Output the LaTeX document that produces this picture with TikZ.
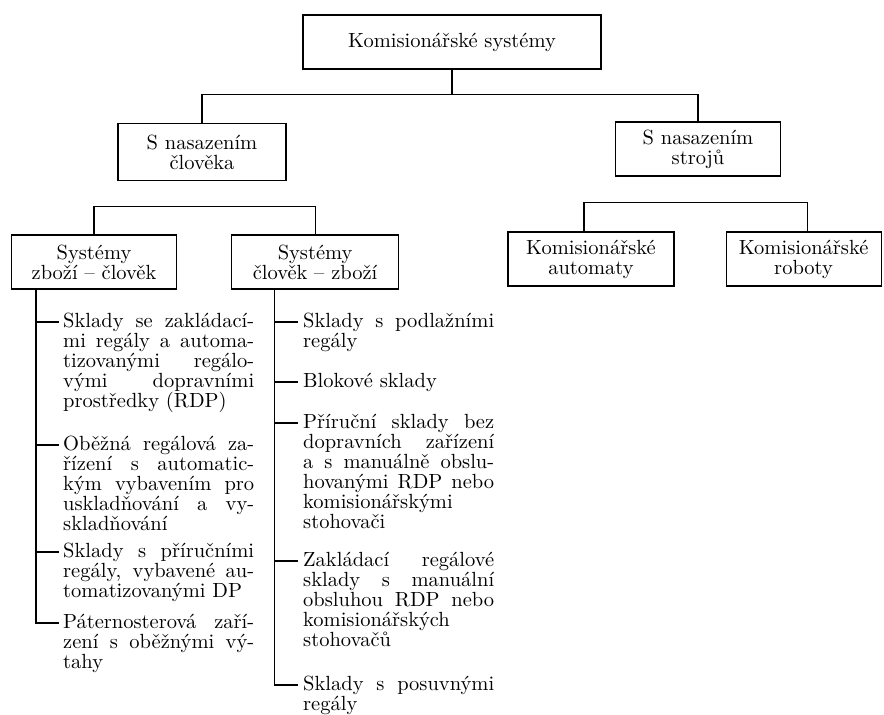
\documentclass[tikz,border=0pt]{standalone}
\usepackage{fontspec}
\setmainfont{lmroman10-regular}[Extension=.otf]
\usepackage{tikz}
\usetikzlibrary{positioning}

\begin{document}
\begin{tikzpicture}[
  x=1pt, y=-1pt,
  box/.style={rectangle, draw, line width=1.1pt, minimum height=54pt, inner sep=2pt, align=center, font=\fontsize{20.5}{20}\selectfont},
  item/.style={anchor=base west, text width=191pt, align=justify, inner sep=0pt, font=\fontsize{20.5}{20}\selectfont},
  ln/.style={line width=1.1pt},
  node distance=54pt and 54pt
]
\useasboundingbox (0,0) rectangle (884,715);

% boxes
\node[box, minimum width=298pt] (top) at (452,42) {Komisionářské systémy};
\node[box, minimum width=168pt, minimum height=57pt] (human) at (202,152) {S nasazením\\člověka};
\node[box, minimum width=165pt] (machine) at (698,149) {S nasazením\\strojů};

\node[box, minimum width=165pt] (goods) at (94,262) {Systémy\\zboží – člověk};
\node[box, minimum width=167pt, right=of goods] (person) {Systémy\\člověk – zboží};
\node[box, minimum width=166pt] (auto) at (591,259) {Komisionářské\\automaty};
\node[box, minimum width=155pt, right=51pt of auto] (robot) {Komisionářské\\roboty};

% items zbozi - clovek
\node[item] (g1) at (63,327) {Sklady se zakládací-\linebreak mi regály a automa-\linebreak tizovanými regálo-\linebreak vými dopravními\linebreak prostředky (RDP)};
\node[item] (g2) at (63,450) {Oběžná regálová za-\linebreak řízení s automatic-\linebreak kým vybavením pro\linebreak uskladňování a vy-\linebreak skladňování};
\node[item] (g3) at (63,557) {Sklady s příručními\linebreak regály, vybavené au-\linebreak tomatizovanými DP};
\node[item] (g4) at (63,628) {Páternosterová zaří-\linebreak zení s oběžnými vý-\linebreak tahy};

% items clovek - zbozi
\node[item] (p1) at (303,327) {Sklady s podlažními\linebreak regály};
\node[item] (p2) at (303,387) {Blokové sklady};
\node[item] (p3) at (303,428) {Příruční sklady bez\linebreak dopravních zařízení\linebreak a s manuálně obslu-\linebreak hovanými RDP nebo\linebreak komisionářskými\linebreak stohovači};
\node[item] (p4) at (303,566) {Zakládací regálové\linebreak sklady s manuální\linebreak obsluhou RDP nebo\linebreak komisionářských\linebreak stohovačů};
\node[item] (p5) at (303,690) {Sklady s posuvnými\linebreak regály};

% tree lines
\draw[ln] (top.south) -- ++(0,-25pt) -| (human.north);
\draw[ln] (top.south) -- ++(0,-25pt) -| (machine.north);
\draw[ln] (goods.north) -- ++(0,28pt) -| (person.north);
\draw[ln] ([xshift=-7pt]auto.north) -- ++(0,29pt) -| ([xshift=4pt]robot.north);

\coordinate (gtrunk) at ([xshift=25pt]goods.south west);
\coordinate (ptrunk) at ([xshift=43pt]person.south west);
\foreach \i in {1,...,4}
  \draw[ln] (gtrunk) |- ([xshift=-4pt,yshift=5pt]g\i.base west);
\foreach \i in {1,...,5}
  \draw[ln] (ptrunk) |- ([xshift=-5pt,yshift=5pt]p\i.base west);
\end{tikzpicture}
\end{document}
